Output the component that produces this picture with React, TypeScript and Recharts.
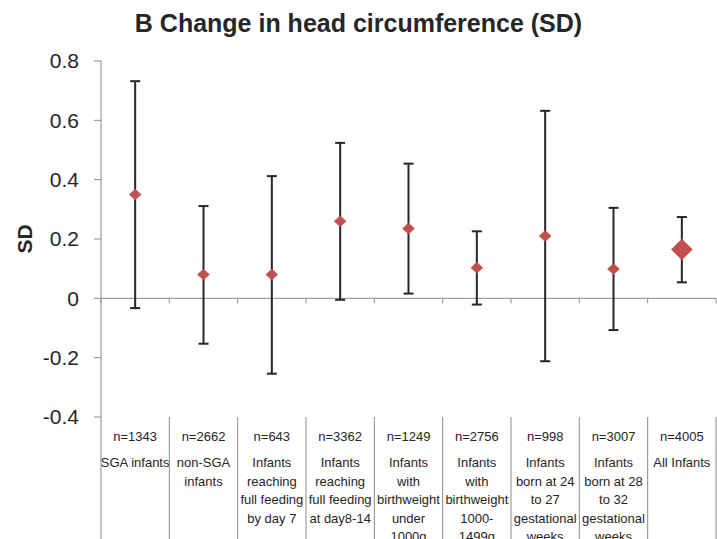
import React from 'react';
import { ComposedChart, Scatter, XAxis, YAxis, ErrorBar, ReferenceLine } from 'recharts';

const sampleSizes = ['n=1343', 'n=2662', 'n=643', 'n=3362', 'n=1249', 'n=2756', 'n=998', 'n=3007', 'n=4005'];
const groupLabels: string[][] = [
  ['SGA infants'],
  ['non-SGA', 'infants'],
  ['Infants', 'reaching', 'full feeding', 'by day 7'],
  ['Infants', 'reaching', 'full feeding', 'at day8-14'],
  ['Infants', 'with', 'birthweight', 'under', '1000g'],
  ['Infants', 'with', 'birthweight', '1000-', '1499g'],
  ['Infants', 'born at 24', 'to 27', 'gestational', 'weeks'],
  ['Infants', 'born at 28', 'to 32', 'gestational', 'weeks'],
  ['All Infants'],
];
const means = [0.35, 0.08, 0.08, 0.26, 0.235, 0.103, 0.21, 0.099, 0.165];
const lows = [-0.033, -0.153, -0.254, -0.005, 0.016, -0.021, -0.212, -0.107, 0.054];
const highs = [0.732, 0.311, 0.412, 0.524, 0.454, 0.226, 0.632, 0.305, 0.274];
const highlighted = [false, false, false, false, false, false, false, false, true];
const yTicks = [-0.4, -0.2, 0, 0.2, 0.4, 0.6, 0.8];

const data = sampleSizes.map((n, i) => ({
  name: n,
  idx: i,
  value: means[i],
  err: [means[i] - lows[i], highs[i] - means[i]],
  big: highlighted[i],
}));

const W = 717;
const H = 539;
const TOP = 61;
const LEFT = 101;
const RIGHT = 1;
const XAXIS_H = 122;
const PLOT_W = W - LEFT - RIGHT;
const PLOT_H = H - TOP - XAXIS_H;
const BAND = PLOT_W / sampleSizes.length;
const DOMAIN: [number, number] = [-0.4, 0.8];
const ZERO_Y = TOP + ((DOMAIN[1] - 0) / (DOMAIN[1] - DOMAIN[0])) * PLOT_H;
const FONT = '"Liberation Sans", Arial, sans-serif';
const AXIS_COLOR = '#8c8c8c';
const TEXT_COLOR = '#262626';

const Diamond = (props: any) => {
  const { cx, cy, payload } = props;
  if (cx == null || cy == null) return null;
  const hw = payload && payload.big ? 10.5 : 6;
  const hh = payload && payload.big ? 10.5 : 5.5;
  return (
    <polygon
      points={`${cx},${cy - hh} ${cx + hw},${cy} ${cx},${cy + hh} ${cx - hw},${cy}`}
      fill="#C0504D"
      stroke="#C0504D"
      strokeWidth={0.5}
    />
  );
};

const CategoryTick = (props: any) => {
  const { x, payload, index } = props;
  const i = payload && typeof payload.index === 'number' ? payload.index : index;
  const left = x - BAND / 2;
  const right = x + BAND / 2;
  const tableTop = TOP + PLOT_H;
  const lines = groupLabels[i] || [];
  return (
    <g>
      <line x1={left} y1={ZERO_Y} x2={left} y2={ZERO_Y + 5} stroke={AXIS_COLOR} strokeWidth={1} />
      <line x1={left} y1={tableTop} x2={left} y2={H} stroke={AXIS_COLOR} strokeWidth={1} />
      {i === sampleSizes.length - 1 && (
        <>
          <line x1={right} y1={ZERO_Y} x2={right} y2={ZERO_Y + 5} stroke={AXIS_COLOR} strokeWidth={1} />
          <line x1={right} y1={tableTop} x2={right} y2={H} stroke={AXIS_COLOR} strokeWidth={1} />
        </>
      )}
      <text x={x} y={tableTop + 24} textAnchor="middle" fontSize={13} fontFamily={FONT} fill={TEXT_COLOR}>
        {payload.value}
      </text>
      {lines.map((ln, k) => (
        <text
          key={k}
          x={x}
          y={tableTop + 50 + k * 18.5}
          textAnchor="middle"
          fontSize={13}
          fontFamily={FONT}
          fill={TEXT_COLOR}
        >
          {ln}
        </text>
      ))}
    </g>
  );
};

const SDLabel = (props: any) => {
  const vb = props.viewBox || {};
  const cy = (vb.y ?? TOP) + (vb.height ?? PLOT_H) / 2;
  return (
    <text
      x={24}
      y={cy}
      transform={`rotate(-90, 24, ${cy})`}
      textAnchor="middle"
      dominantBaseline="central"
      fontSize={21}
      fontWeight="bold"
      fontFamily={FONT}
      fill={TEXT_COLOR}
    >
      SD
    </text>
  );
};

export default function App() {
  return (
    <div style={{ position: 'absolute', left: 0, top: 0, width: W, height: H, background: '#fff' }}>
      <div
        style={{
          position: 'absolute',
          left: 0,
          top: 7,
          width: W,
          textAlign: 'center',
          fontFamily: FONT,
          fontWeight: 'bold',
          fontSize: 25,
          color: TEXT_COLOR,
          lineHeight: '32px',
        }}
      >
        B Change in head circumference (SD)
      </div>
      <ComposedChart width={W} height={H} data={data} margin={{ top: TOP, right: RIGHT, bottom: 0, left: 0 }}>
        <XAxis
          dataKey="name"
          type="category"
          scale="band"
          height={XAXIS_H}
          axisLine={false}
          tickLine={false}
          interval={0}
          tick={<CategoryTick />}
        />
        <YAxis
          type="number"
          domain={DOMAIN}
          ticks={yTicks}
          width={LEFT}
          allowDataOverflow
          axisLine={{ stroke: AXIS_COLOR, strokeWidth: 1 }}
          tickLine={{ stroke: AXIS_COLOR, strokeWidth: 1 }}
          tickSize={7}
          tickMargin={15}
          tick={{ fontSize: 21, fontFamily: FONT, fill: TEXT_COLOR }}
          tickFormatter={(v: number) => (v === 0 ? '0' : String(v))}
          label={<SDLabel />}
        />
        <ReferenceLine y={0} stroke={AXIS_COLOR} strokeWidth={1} />
        <Scatter dataKey="value" isAnimationActive={false} shape={<Diamond />}>
          <ErrorBar dataKey="err" direction="y" width={5} strokeWidth={2} stroke="#262626" />
        </Scatter>
      </ComposedChart>
    </div>
  );
}
